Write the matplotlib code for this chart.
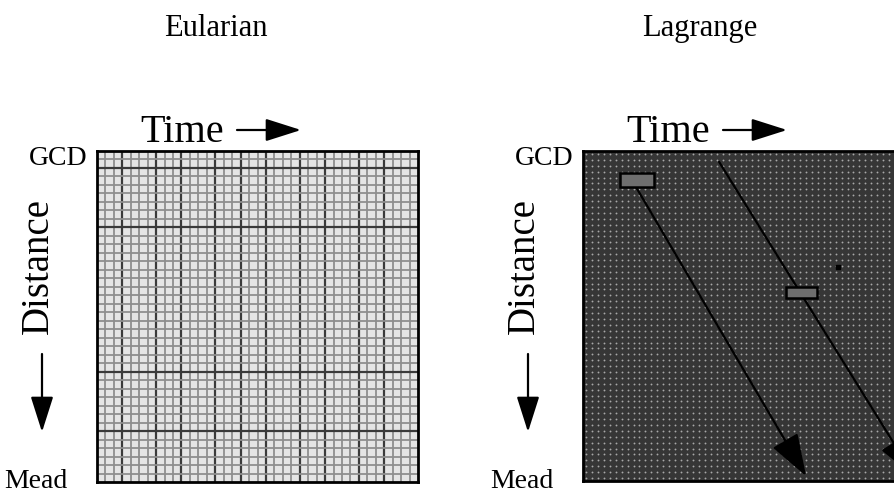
import numpy as np
import matplotlib
matplotlib.use('Agg')
import matplotlib.pyplot as plt
from matplotlib.patches import Rectangle, FancyArrowPatch

plt.rcParams['font.family'] = ['Liberation Serif', 'DejaVu Serif']

# panel titles and axis words
titles = ['Eularian', 'Lagrange']
top_label = 'GCD'
bottom_label = 'Mead'
time_label = 'Time'
dist_label = 'Distance'

# Eulerian grid: number of cells and the heavier lines
n_cols = 38
n_rows = 39
dark_cols = [3, 7, 10, 14, 17, 20, 24, 27, 31, 34]
dark_rows = [2, 9, 26, 33]

# Lagrange panel (x = time, y = distance from GCD, both 0..1)
parcel_x = [0.115, 0.632]
parcel_y = [0.067, 0.412]
parcel_w = [0.106, 0.097]
parcel_h = [0.042, 0.033]
path_start_x = [0.165, 0.424]
path_start_y = [0.109, 0.033]
path_end_x = [0.695, 1.035]
path_end_y = [0.985, 0.99]
speck_x = [0.794]
speck_y = [0.352]
n_dot_cols = 54
n_dot_rows = 56

W, H = 894, 495
fig = plt.figure(figsize=(W / 100, H / 100), dpi=100)


def px_axes(x0, y0, x1, y1):
    # pixel box (from top-left) -> axes
    return fig.add_axes([x0 / W, 1 - y1 / H, (x1 - x0) / W, (y1 - y0) / H])


# ---- Eulerian panel
ax1 = px_axes(97, 151, 418, 482)
ax1.set_facecolor('#e4e4e4')
ax1.set_xlim(0, n_cols)
ax1.set_ylim(n_rows, 0)
for c in range(1, n_cols):
    if c in dark_cols:
        ax1.axvline(c, color='#3a3a3a', lw=1.6)
    else:
        ax1.axvline(c, color='#8e8e8e', lw=1.3)
for r in range(1, n_rows):
    if r in dark_rows:
        ax1.axhline(r, color='#3a3a3a', lw=1.6)
    else:
        ax1.axhline(r, color='#8e8e8e', lw=1.3)

# ---- Lagrange panel
ax2 = px_axes(583, 151, 904, 481)
ax2.set_facecolor('#363636')
ax2.set_xlim(0, 1)
ax2.set_ylim(1, 0)
gx, gy = np.meshgrid((np.arange(n_dot_cols) + 0.5) / n_dot_cols,
                     (np.arange(n_dot_rows) + 0.5) / n_dot_rows)
ax2.scatter(gx.ravel(), gy.ravel(), s=1.8, color='#a8a8a8', linewidths=0)
for i in range(len(parcel_x)):
    ax2.annotate('', xy=(path_end_x[i], path_end_y[i]),
                 xytext=(path_start_x[i], path_start_y[i]),
                 arrowprops=dict(arrowstyle='-|>,head_length=1.1,head_width=0.38',
                                 mutation_scale=24, lw=1.6, color='black',
                                 shrinkA=0, shrinkB=0),
                 zorder=4, annotation_clip=False)
    ax2.add_patch(Rectangle((parcel_x[i], parcel_y[i]), parcel_w[i], parcel_h[i],
                            facecolor='#6e6e6e', edgecolor='black', lw=1.8, zorder=5))
ax2.scatter(speck_x, speck_y, s=7, color='black', marker='s', zorder=3)

for ax in (ax1, ax2):
    ax.set_xticks([])
    ax.set_yticks([])
    for sp in ax.spines.values():
        sp.set_linewidth(2.0)
        sp.set_color('black')

# ---- labels around panels (pixel offsets measured from the left panel)
arrow_kw = dict(arrowstyle='-|>,head_length=1.1,head_width=0.35',
                mutation_scale=20, lw=1.6, color='black', shrinkA=0, shrinkB=0)
for k, dx in enumerate([0, 486]):
    fig.text((216 + dx * 0.995) / W, 1 - 36 / H, titles[k], fontsize=22,
             ha='center', va='baseline')
    fig.text((140 + dx) / W, 1 - 142 / H, time_label, fontsize=29,
             ha='left', va='baseline')
    fig.add_artist(FancyArrowPatch(
        ((237 + dx) / W, 1 - 130 / H), ((301 + dx) / W, 1 - 130 / H),
        transform=fig.transFigure, **arrow_kw))
    fig.text((89 + dx - 2) / W, 1 - 165 / H, top_label, fontsize=20,
             ha='right', va='baseline')
    fig.text((4 + dx) / W, 1 - 488 / H, bottom_label, fontsize=20,
             ha='left', va='baseline')
    fig.text((42 + dx - 4) / W, 1 - 266 / H, dist_label, fontsize=28,
             rotation=90, ha='center', va='center')
    fig.add_artist(FancyArrowPatch(
        ((42 + dx) / W, 1 - 354 / H), ((42 + dx) / W, 1 - 432 / H),
        transform=fig.transFigure, **arrow_kw))

fig.savefig('out.png', dpi=100)
